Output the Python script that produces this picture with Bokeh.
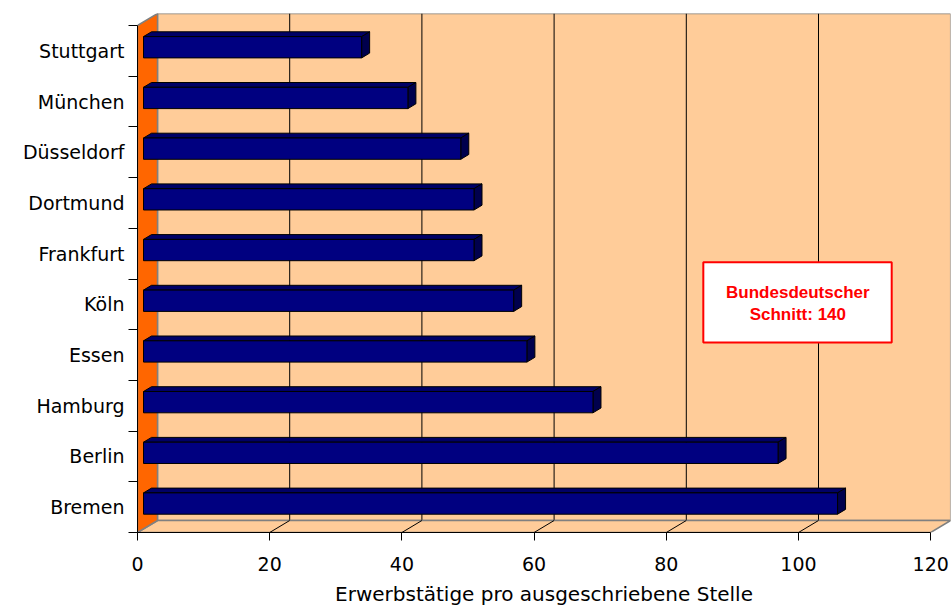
from bokeh.plotting import figure
from bokeh.models import Range1d, FixedTicker
from bokeh.embed import file_html
from bokeh.resources import INLINE
from bokeh.core.properties import value

# ---- data ----
cities = ["Bremen", "Berlin", "Hamburg", "Essen", "Köln", "Frankfurt",
          "Dortmund", "Düsseldorf", "München", "Stuttgart"]
values = [105, 96, 68, 58, 56, 50, 50, 48, 40, 33]
x_ticks = [0, 20, 40, 60, 80, 100, 120]
x_title = "Erwerbstätige pro ausgeschriebene Stelle"
note_lines = ["Bundesdeutscher", "Schnitt: 140"]

# ---- layout geometry ----
FRAME_W, FRAME_H = 813, 519
PX_X = 6.61          # pixels per value unit
PX_Y = 50.7          # pixels per category
n = len(cities)
x_max = x_ticks[-1]
DX = 20 / PX_X       # wall depth (x units)
DY = 12 / PX_Y       # wall depth (y units)
F0, F1 = 0.3, 0.7    # bar depth position (front / back fraction)
BAR_H = 0.42

WALL = "#FFCC99"
SIDE = "#FF6600"
EDGE = "#808080"
BAR_FRONT = "#000080"
BAR_TOP = "#000066"
BAR_SIDE = "#00004D"

p = figure(width=951, height=608, output_backend="svg", toolbar_location=None,
           x_range=Range1d(0, FRAME_W / PX_X), y_range=Range1d(0, FRAME_H / PX_Y),
           min_border_left=137, min_border_right=1, min_border_top=13,
           min_border_bottom=76)
p.outline_line_color = None
p.xgrid.visible = False
p.ygrid.visible = False
p.background_fill_color = "white"
p.border_fill_color = "white"

# back wall
p.quad(left=DX, right=x_max + DX, bottom=DY, top=n + DY,
       fill_color=WALL, line_color=EDGE, line_width=1.5)
# gridlines on back wall
inner = x_ticks[1:-1]
p.segment(x0=[t + DX for t in inner], y0=DY, x1=[t + DX for t in inner], y1=n + DY,
          line_color="black", line_width=1)
# floor
p.patch([0, x_max, x_max + DX, DX], [0, 0, DY, DY],
        fill_color=WALL, line_color=EDGE, line_width=1.5)
p.segment(x0=inner, y0=0, x1=[t + DX for t in inner], y1=DY,
          line_color="black", line_width=1)
# side wall
p.patch([0, DX, DX, 0], [0, DY, n + DY, n],
        fill_color=SIDE, line_color=EDGE, line_width=1.5)

# bars
ddx = (F1 - F0) * DX
ddy = (F1 - F0) * DY
L, R, B, T = [], [], [], []
top_xs, top_ys, side_xs, side_ys = [], [], [], []
for i, v in enumerate(values):
    l = F0 * DX
    r = v + F0 * DX
    b = i + 0.5 - BAR_H / 2 + F0 * DY
    t = i + 0.5 + BAR_H / 2 + F0 * DY
    L.append(l); R.append(r); B.append(b); T.append(t)
    top_xs.append([l, r, r + ddx, l + ddx])
    top_ys.append([t, t, t + ddy, t + ddy])
    side_xs.append([r, r + ddx, r + ddx, r])
    side_ys.append([b, b + ddy, t + ddy, t])

p.patches(top_xs, top_ys, fill_color=BAR_TOP, line_color="black", line_width=1)
p.patches(side_xs, side_ys, fill_color=BAR_SIDE, line_color="black", line_width=1)
p.quad(left=L, right=R, bottom=B, top=T, fill_color=BAR_FRONT,
       line_color="black", line_width=1)

# note box
p.quad(left=[85.6], right=[114.1], bottom=[3.75], top=[5.33],
       fill_color="white", line_color="#FF0000", line_width=2)
p.text(x=[99.9, 99.9], y=[4.74, 4.30], text=note_lines,
       text_align="center", text_baseline="alphabetic",
       text_font=value("Liberation Sans"), text_font_style="bold",
       text_font_size="17px", text_color="#FF0000")

# x axis
xa = p.xaxis[0]
xa.ticker = FixedTicker(ticks=x_ticks, minor_ticks=[])
xa.bounds = (0, x_max)
xa.axis_line_color = "black"
xa.major_tick_line_color = "black"
xa.major_tick_out = 8
xa.major_tick_in = 0
xa.minor_tick_out = 0
xa.minor_tick_in = 0
xa.major_label_standoff = 16
xa.major_label_text_font = "DejaVu Sans"
xa.major_label_text_font_size = "19px"
xa.major_label_text_color = "black"
xa.axis_label = x_title
xa.axis_label_text_font = "DejaVu Sans"
xa.axis_label_text_font_size = "20px"
xa.axis_label_text_font_style = "normal"
xa.axis_label_text_color = "black"
xa.axis_label_standoff = 8

# y axis
ya = p.yaxis[0]
ya.ticker = FixedTicker(ticks=[i + 0.5 for i in range(n)],
                        minor_ticks=list(range(n + 1)))
ya.major_label_overrides = {i + 0.5: c for i, c in enumerate(cities)}
ya.bounds = (0, n)
ya.axis_line_color = "black"
ya.major_tick_out = 0
ya.major_tick_in = 0
ya.minor_tick_out = 9
ya.minor_tick_in = 0
ya.minor_tick_line_color = "black"
ya.major_label_standoff = 4
ya.major_label_text_font = "DejaVu Sans"
ya.major_label_text_font_size = "19px"
ya.major_label_text_color = "black"

open("out.html", "w").write(file_html(p, INLINE))
